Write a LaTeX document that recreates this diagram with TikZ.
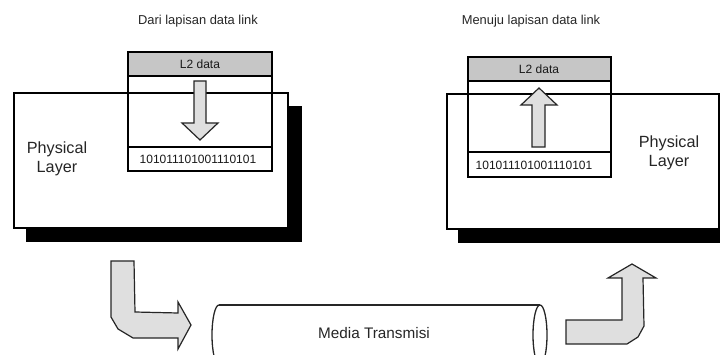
\documentclass[tikz,border=0pt]{standalone}
\usepackage{fontspec}
\setmainfont{Liberation Sans}
\begin{document}
\begin{tikzpicture}[x=1pt,y=-1pt,
  frame/.style={draw=black,line width=1.8pt},
  band/.style={draw=black,line width=1.8pt,fill=gray!45},
  flow/.style={draw=black!85,line width=1.2pt,fill=gray!25,line join=miter},
  tube/.style={draw=black!85,line width=1.3pt},
  shadowbox/.style={fill=black},
  caption/.style={font=\fontsize{12.9}{15}\selectfont,text=black!85},
  label/.style={font=\fontsize{12}{14}\selectfont,text=black!90},
  layer/.style={font=\fontsize{16.2}{19}\selectfont,align=center,text=black!85},
  media/.style={font=\fontsize{15.3}{18}\selectfont,text=black!85}]
\useasboundingbox (0,0) rectangle (720,355);
\clip (0,0) rectangle (720,355);

% ---------- sending side ----------
\fill[shadowbox] (26,106) rectangle (302,242);
\filldraw[frame,fill=white] (14,93) rectangle (288,228);
\node[layer] (layerL) at (57,159) {Physical\\Layer};
\node[caption] (titleL) at (198,21) {Dari lapisan data link};

% data frame descending into the layer
\draw[band] (128,52) rectangle (272,76);
\node[label] (l2L) at (200,64) {L2 data};
\draw[frame] (128,76) rectangle (272,147);
\draw[frame] (128,147) rectangle (272,171);
\node[label] (bitsL) at (198,159.5) {101011101001110101};
\draw[flow] (194,81) -- (206,81) -- (206,123) -- (218,123) -- (200,140)
  -- (182,123) -- (194,123) -- cycle;

% ---------- receiving side ----------
\fill[shadowbox] (458,106) rectangle (740,243);
\filldraw[frame,fill=white] (447,94) rectangle (719,229);
\node[layer] (layerR) at (669,153) {Physical\\Layer};
\node[caption] (titleR) at (531,21) {Menuju lapisan data link};

\draw[band] (468,57) rectangle (611,81);
\node[label] (l2R) at (539,69) {L2 data};
\draw[frame] (468,81) rectangle (611,152);
\draw[frame] (468,152) rectangle (611,177);
\node[label] (bitsR) at (534,165) {101011101001110101};
\draw[flow] (532,147) -- (545,147) -- (545,105) -- (557,105) -- (539,88)
  -- (521,105) -- (532,105) -- cycle;

% ---------- transmission medium ----------
\draw[tube] (219,305) -- (540,305);
\draw[tube] (219,365) -- (540,365);
\draw[tube] (219,305) arc[start angle=-90,end angle=-270,x radius=7,y radius=30];
\draw[tube] (540,335) ellipse[x radius=7,y radius=30];
\node[media] (medium) at (374,333) {Media Transmisi};

% bent arrows into and out of the medium
\draw[flow] (111,261) -- (134,261) -- (135,312) -- (178,313) -- (178,302)
  -- (191,325) -- (178,349) -- (178,338) -- (133,338) -- (118,329)
  -- (111,317) -- cycle;
\draw[flow] (566,320) -- (622,320) -- (622,278) -- (608,278) -- (632,264)
  -- (656,278) -- (643,278) -- (644,326) -- (638,337) -- (627,344)
  -- (566,344) -- cycle;
\end{tikzpicture}
\end{document}
